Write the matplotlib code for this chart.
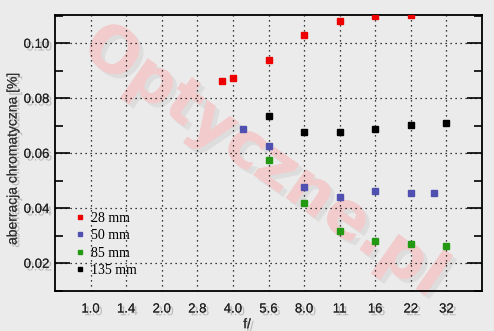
import numpy as np
import matplotlib
matplotlib.use('Agg')
import matplotlib.pyplot as plt
import matplotlib.patheffects as pe
from matplotlib.ticker import MultipleLocator

# f-stop axis (evenly spaced stops)
stops = [1.0, 1.4, 2.0, 2.8, 4.0, 5.6, 8.0, 11, 16, 22, 32]
stop_labels = ['1.0', '1.4', '2.0', '2.8', '4.0', '5.6', '8.0', '11', '16', '22', '32']

f28 = [3.6, 4.0, 5.6, 8.0, 11, 16, 22]
ca28 = [0.0863, 0.0873, 0.0938, 0.1029, 0.1080, 0.1099, 0.1102]

f50 = [4.4, 5.6, 8.0, 11, 16, 22, 28]
ca50 = [0.0688, 0.0625, 0.0477, 0.0440, 0.0462, 0.0455, 0.0455]

f85 = [5.6, 8.0, 11, 16, 22, 32]
ca85 = [0.0575, 0.0418, 0.0316, 0.0280, 0.0269, 0.0262]

f135 = [5.6, 8.0, 11, 16, 22, 32]
ca135 = [0.0735, 0.0676, 0.0676, 0.0687, 0.0702, 0.0709]

series = [('28 mm', f28, ca28, '#ee0000'),
          ('50 mm', f50, ca50, '#5050b0'),
          ('85 mm', f85, ca85, '#229911'),
          ('135 mm', f135, ca135, '#000000')]


def stop_pos(f):
    return np.interp(np.log(f), np.log(stops), np.arange(len(stops)))


bg = '#ebebeb'
shadow = [pe.withSimplePatchShadow(offset=(2, -2), shadow_rgbFace='#888888', alpha=0.5), pe.Normal()]

fig = plt.figure(figsize=(4.94, 3.31), dpi=100, facecolor=bg)
ax = fig.add_axes([55 / 494, 1 - 291 / 331, 427 / 494, 276 / 331], facecolor=bg)

# watermark
ax.text(0.49, 0.47, 'Optyczne.pl', transform=ax.transAxes, rotation=-35,
        ha='center', va='center', fontsize=46, fontweight='bold',
        family='DejaVu Sans', color='#f2cccc', zorder=0,
        path_effects=[pe.withSimplePatchShadow(offset=(3, -3), shadow_rgbFace='#d4d4d4', alpha=0.6), pe.Normal()])

for label, f, ca, c in series:
    ax.plot(stop_pos(f), ca, 's', color=c, markersize=4.2, label=label,
            linestyle='none', zorder=3)

ax.set_xlim(-1, 11)
ax.set_ylim(0.0099, 0.1103)
ax.set_xticks(np.arange(len(stops)))
ax.set_xticklabels(stop_labels)
ax.yaxis.set_major_locator(MultipleLocator(0.02))
ax.yaxis.set_minor_locator(MultipleLocator(0.01))
ax.set_yticks([0.02, 0.04, 0.06, 0.08, 0.10])
ax.set_yticklabels(['0.02', '0.04', '0.06', '0.08', '0.10'])

ax.grid(True, which='major', color='black', linestyle=(0, (1, 3)), linewidth=0.9)
ax.tick_params(axis='x', length=0, pad=9, labelsize=9.5, labelcolor='#222222')
ax.tick_params(axis='y', which='major', direction='in', length=11, width=1.2,
               left=True, right=True, pad=4, labelsize=9.5, labelcolor='#222222')
ax.tick_params(axis='y', which='minor', direction='in', length=5.5, width=1.2,
               left=True, right=True)
for lab in ax.get_xticklabels() + ax.get_yticklabels():
    lab.set_family('Liberation Sans')
    lab.set_path_effects(shadow)

for s in ax.spines.values():
    s.set_linewidth(1.3)

ax.set_ylabel('aberracja chromatyczna [%]', family='Liberation Sans', fontsize=10,
              color='#333333', path_effects=shadow)
ax.yaxis.set_label_coords(-0.083, 0.48)
ax.set_xlabel('f/', family='Liberation Sans', fontsize=10, color='#333333',
              path_effects=shadow)
ax.xaxis.set_label_coords(0.45, -0.095)

leg = ax.legend(loc='lower left', bbox_to_anchor=(0.035, 0.03), frameon=False,
                prop={'family': 'Liberation Serif', 'size': 10},
                handlelength=0.6, handletextpad=0.5, labelspacing=0.32,
                markerscale=0.8, borderaxespad=0)

fig.savefig('out.png', dpi=100, facecolor=bg)
